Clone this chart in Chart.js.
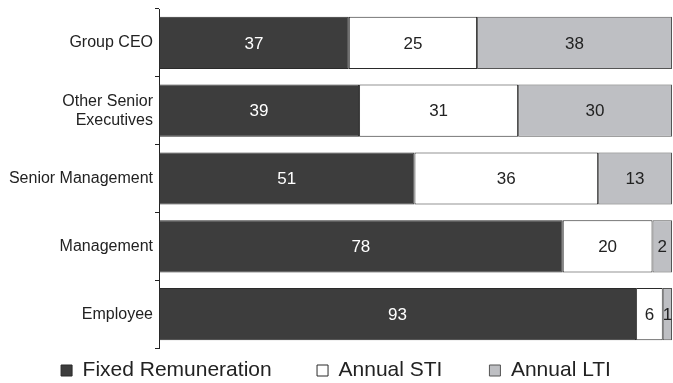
<!DOCTYPE html>
<html>
<head>
<meta charset="utf-8">
<script src="https://cdn.jsdelivr.net/npm/chart.js@4/dist/chart.umd.min.js"></script>
<style>
    html, body { margin: 0; padding: 0; background: #fff; }
    #wrap { width: 673px; height: 383px; }
</style>
</head>
<body>
<div id="wrap"><canvas id="payChart"></canvas></div>
<script>
// chart values
var categories = ['Group CEO', ['Other Senior', 'Executives'], 'Senior Management', 'Management', 'Employee'];
var seriesNames = ['Fixed Remuneration', 'Annual STI', 'Annual LTI'];

// segment lengths as they are drawn (in % of the bar)
var fixedRem = [37, 39, 49.8, 78.7, 93];
var annualSTI = [25, 31, 35.8, 17.5, 5.2];
var annualLTI = [38, 30, 14.4, 3.8, 1.8];

// numbers printed on the segments
var fixedRemLabels = [37, 39, 51, 78, 93];
var annualSTILabels = [25, 31, 36, 20, 6];
var annualLTILabels = [38, 30, 13, 2, 1];

var fontFamily = '"Liberation Sans", Arial, sans-serif';

// draws the number in the middle of every segment
var segmentLabels = {
    id: 'segmentLabels',
    afterDatasetsDraw: function (chart) {
        var ctx = chart.ctx;
        ctx.save();
        ctx.font = '17px ' + fontFamily;
        ctx.textAlign = 'center';
        ctx.textBaseline = 'middle';
        chart.data.datasets.forEach(function (ds, i) {
            var meta = chart.getDatasetMeta(i);
            meta.data.forEach(function (bar, j) {
                var cx = (bar.x + bar.base) / 2;
                ctx.fillStyle = i === 0 ? '#ffffff' : '#222222';
                ctx.fillText(ds.shown[j], cx, bar.y + 1);
            });
        });
        ctx.restore();
    }
};

function createChart() {
    const ctx = document.getElementById('payChart');
    new Chart(ctx, {
        type: 'bar',
        data: {
            labels: categories,
            datasets: [
                {
                    label: seriesNames[0],
                    data: fixedRem,
                    shown: fixedRemLabels,
                    backgroundColor: '#3d3d3d',
                    borderColor: '#2a2a2a',
                    borderWidth: 1,
                    borderSkipped: false
                },
                {
                    label: seriesNames[1],
                    data: annualSTI,
                    shown: annualSTILabels,
                    backgroundColor: '#ffffff',
                    borderColor: '#2a2a2a',
                    borderWidth: 1,
                    borderSkipped: false
                },
                {
                    label: seriesNames[2],
                    data: annualLTI,
                    shown: annualLTILabels,
                    backgroundColor: '#bebfc3',
                    borderColor: '#555555',
                    borderWidth: 1,
                    borderSkipped: false
                }
            ]
        },
        options: {
            indexAxis: 'y',
            responsive: true,
            maintainAspectRatio: false,
            animation: false,
            barPercentage: 0.77,
            categoryPercentage: 1,
            layout: { padding: { top: 9, right: 1, left: 0, bottom: 0 } },
            plugins: {
                tooltip: { enabled: false },
                legend: {
                    position: 'bottom',
                    maxHeight: 35,
                    labels: {
                        color: '#222',
                        font: { family: fontFamily, size: 21 },
                        boxWidth: 11,
                        boxHeight: 11,
                        padding: 12,
                        // a little extra room after the first two entries
                        generateLabels: function (chart) {
                            var items = Chart.defaults.plugins.legend.labels.generateLabels(chart);
                            items[0].text += '     \u2009';
                            items[1].text += '      ';
                            return items;
                        }
                    }
                }
            },
            scales: {
                x: {
                    stacked: true,
                    display: false,
                    min: 0,
                    max: 100
                },
                y: {
                    stacked: true,
                    afterFit: function (scale) {
                        scale.width = 159;
                        scale.paddingTop = 0;
                        scale.paddingBottom = 0;
                    },
                    grid: {
                        offset: true,
                        drawOnChartArea: false,
                        tickLength: 4,
                        color: '#222'
                    },
                    border: { display: true, color: '#222', width: 1 },
                    ticks: {
                        color: '#222',
                        padding: 2,
                        font: { family: fontFamily, size: 16 }
                    }
                }
            }
        },
        plugins: [segmentLabels]
    });
}

createChart();
</script>
</body>
</html>
